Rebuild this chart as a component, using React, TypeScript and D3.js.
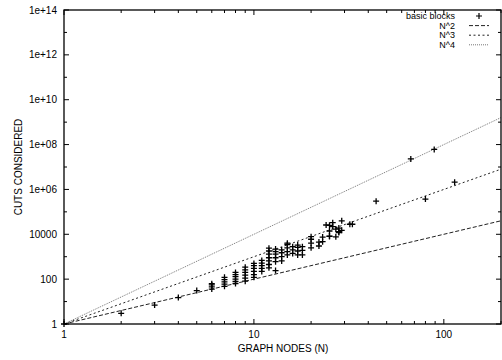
import React from 'react';
import * as d3 from 'd3';

// basic block samples: graph nodes (N) vs cuts considered
const nodes = [
  1, 2, 3, 4, 5,
  6, 6, 6, 6,
  7, 7, 7, 7, 7,
  8, 8, 8, 8, 8, 8,
  9, 9, 9, 9, 9, 9,
  10, 10, 10, 10, 10, 10,
  11, 11, 11, 11, 11,
  12, 12, 12, 12, 12, 12, 12,
  13, 13, 13, 13, 13, 13,
  14, 14, 14, 14,
  15, 15, 15, 15, 15,
  16, 16, 16,
  17, 17, 17, 17,
  18, 18, 18,
  20, 20, 20, 20,
  22, 22,
  23, 23,
  24,
  25, 25, 25, 25,
  26, 26,
  27, 27,
  28, 28, 28,
  29, 29,
  32, 33,
  44, 67, 80, 89, 114,
];
const cuts = [
  1, 3, 7, 15, 31,
  36, 45, 55, 63,
  48, 60, 75, 95, 120,
  64, 80, 100, 130, 160, 200,
  81, 110, 150, 200, 260, 340,
  120, 160, 220, 300, 400, 500,
  220, 300, 400, 520, 680,
  320, 450, 650, 900, 1300, 1800, 2400,
  240, 600, 900, 1300, 1700, 2200,
  650, 1000, 1500, 2000,
  1200, 1700, 2500, 3500, 4000,
  1400, 2000, 2800,
  1200, 1800, 2600, 3300,
  1200, 1900, 2800,
  2500, 4000, 6000, 7800,
  3000, 4500,
  4700, 7500,
  26000,
  8000, 8300, 14000, 25000,
  22000, 33000,
  7700, 17000,
  12000, 13000, 19000,
  15000, 40000,
  28000, 28000,
  300000, 23000000, 370000, 61000000, 2100000,
];

const powers = [2, 3, 4];
const powerNames = ['N^2', 'N^3', 'N^4'];

const xMajor = [1, 10, 100];
const xMinor = [2, 3, 4, 5, 6, 7, 8, 9, 20, 30, 40, 50, 60, 70, 80, 90, 200];
const yTickValues = [1, 1e2, 1e4, 1e6, 1e8, 1e10, 1e12, 1e14];
const yTickLabels = ['1', '100', '10000', '1e+06', '1e+08', '1e+10', '1e+12', '1e+14'];
const yMinor = [1e1, 1e3, 1e5, 1e7, 1e9, 1e11, 1e13];

export default function App() {
  const W = 502, H = 360;
  const left = 64, right = 501, top = 10, bottom = 324;
  const font = '"Liberation Sans", Arial, Helvetica, sans-serif';

  const x = d3.scaleLog().domain([1, 200]).range([left, right]);
  const y = d3.scaleLog().domain([1, 1e14]).range([bottom, top]);

  const dashes = ['4,2', '2,2.5', '1,1'];
  const colors = ['#222', '#222', '#777'];

  const fitLine = (p: number) =>
    d3.line<number>().x(n => x(n)).y(n => y(Math.pow(n, p)))([1, 200]) || '';

  const legendRows = ['basic blocks', ...powerNames];

  return (
    <svg width={W} height={H} style={{ position: 'absolute', left: 0, top: 0, background: '#fff' }}
      fontFamily={font} fontSize={10}>
      {/* fit lines */}
      {powers.map((p, i) => (
        <path key={p} d={fitLine(p)} fill="none" stroke={colors[i]} strokeWidth={1}
          strokeDasharray={dashes[i]} />
      ))}

      {/* points */}
      <g stroke="#000" strokeWidth={1.3}>
        {nodes.map((n, i) => {
          const cx = x(n), cy = y(cuts[i]);
          return (
            <path key={i} d={`M${cx - 3},${cy}H${cx + 3}M${cx},${cy - 3}V${cy + 3}`} />
          );
        })}
      </g>

      {/* frame */}
      <rect x={left} y={top} width={right - left} height={bottom - top} fill="none" stroke="#000" strokeWidth={1.3} />

      {/* ticks */}
      <g stroke="#000" strokeWidth={1}>
        {xMajor.map(v => (
          <g key={v}>
            <line x1={x(v)} x2={x(v)} y1={bottom} y2={bottom - 5} />
            <line x1={x(v)} x2={x(v)} y1={top} y2={top + 5} />
          </g>
        ))}
        {xMinor.map(v => (
          <g key={v}>
            <line x1={x(v)} x2={x(v)} y1={bottom} y2={bottom - 3} />
            <line x1={x(v)} x2={x(v)} y1={top} y2={top + 3} />
          </g>
        ))}
        {yTickValues.map(v => (
          <g key={v}>
            <line x1={left} x2={left + 5} y1={y(v)} y2={y(v)} />
            <line x1={right} x2={right - 5} y1={y(v)} y2={y(v)} />
          </g>
        ))}
        {yMinor.map(v => (
          <g key={v}>
            <line x1={left} x2={left + 3} y1={y(v)} y2={y(v)} />
            <line x1={right} x2={right - 3} y1={y(v)} y2={y(v)} />
          </g>
        ))}
      </g>

      {/* tick labels */}
      {xMajor.map(v => (
        <text key={v} x={x(v)} y={bottom + 14} textAnchor="middle" fill="#000">{v}</text>
      ))}
      {yTickValues.map((v, i) => (
        <text key={v} x={left - 7} y={y(v) + 3.5} textAnchor="end" fill="#000">{yTickLabels[i]}</text>
      ))}

      {/* axis titles */}
      <text x={283} y={352} textAnchor="middle" fill="#000">GRAPH NODES (N)</text>
      <text transform={`translate(22,167) rotate(-90)`} textAnchor="middle" fill="#000">CUTS CONSIDERED</text>

      {/* legend */}
      {legendRows.map((name, i) => {
        const ly = 16 + i * 9.6;
        return (
          <g key={name}>
            <text x={455} y={ly + 3.2} textAnchor="end" fill="#000" fontSize={9}>{name}</text>
            {i === 0 ? (
              <path d={`M476,${ly}H482M479,${ly - 3}V${ly + 3}`} stroke="#000" strokeWidth={1.2} />
            ) : (
              <line x1={469} x2={489} y1={ly} y2={ly} stroke={colors[i - 1]} strokeWidth={1}
                strokeDasharray={dashes[i - 1]} />
            )}
          </g>
        );
      })}
    </svg>
  );
}
